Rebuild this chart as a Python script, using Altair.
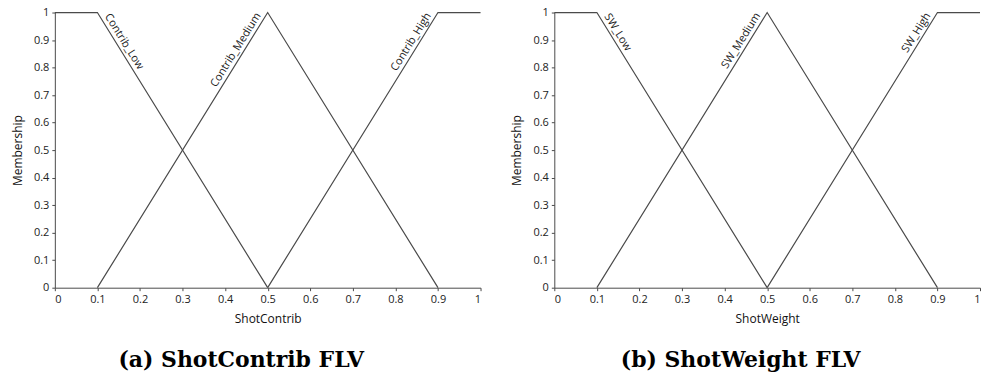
import altair as alt
import pandas as pd

# membership function breakpoints
low_x = [0.0, 0.1, 0.5]
low_y = [1.0, 1.0, 0.0]
med_x = [0.1, 0.5, 0.9]
med_y = [0.0, 1.0, 0.0]
high_x = [0.5, 0.9, 1.0]
high_y = [0.0, 1.0, 1.0]

panels = [
    {"var": "ShotContrib", "caption": "(a) ShotContrib FLV",
     "names": ["Contrib_Low", "Contrib_Medium", "Contrib_High"]},
    {"var": "ShotWeight", "caption": "(b) ShotWeight FLV",
     "names": ["SW_Low", "SW_Medium", "SW_High"]},
]

# label anchor points (top corner of each set)
label_x = [0.1, 0.5, 0.9]
label_y = [1.0, 1.0, 1.0]

ticks = [round(i * 0.1, 1) for i in range(11)]

W, H = 427, 276
LINE = "#4a4a4a"
FONT = "Open Sans"


def panel(p):
    rows = []
    for name, xs, ys in zip(p["names"], [low_x, med_x, high_x], [low_y, med_y, high_y]):
        for i, (x, y) in enumerate(zip(xs, ys)):
            rows.append({"set": name, "x": x, "y": y, "order": i})
    df = pd.DataFrame(rows)
    lab = pd.DataFrame({"x": label_x, "y": label_y, "text": p["names"]})

    xs = alt.Scale(domain=[0, 1], nice=False)
    ys = alt.Scale(domain=[0, 1], nice=False)

    lines = alt.Chart(df).mark_line(color=LINE, strokeWidth=1.2).encode(
        x=alt.X("x:Q", scale=xs, title=p["var"],
                axis=alt.Axis(values=ticks, format=".1~f", grid=False,
                              labelOverlap=False, tickCount=11)),
        y=alt.Y("y:Q", scale=ys, title="Membership",
                axis=alt.Axis(values=ticks, format=".1~f", grid=False,
                              labelOverlap=False, tickCount=11)),
        detail="set:N",
        order="order:Q",
    )
    down = alt.Chart(lab.iloc[[0]]).mark_text(
        angle=58, align="left", baseline="alphabetic", dx=7, dy=-4,
        font=FONT, fontSize=11, color="#222"
    ).encode(x=alt.X("x:Q", scale=xs), y=alt.Y("y:Q", scale=ys), text="text:N")
    up = alt.Chart(lab.iloc[[1, 2]]).mark_text(
        angle=302, align="right", baseline="alphabetic", dx=-6, dy=-4,
        font=FONT, fontSize=11, color="#222"
    ).encode(x=alt.X("x:Q", scale=xs), y=alt.Y("y:Q", scale=ys), text="text:N")

    return alt.layer(lines, down, up).properties(
        width=W, height=H,
        title=alt.TitleParams(p["caption"], orient="bottom", anchor="middle",
                              frame="bounds", font="DejaVu Serif", fontSize=22,
                              fontWeight="bold", color="#000", offset=26, dx=-6),
    )


chart = alt.hconcat(panel(panels[0]), panel(panels[1]), spacing=27).properties(
    padding={"left": 11, "top": 6, "right": 0, "bottom": 0}
).configure_view(stroke=None).configure_axis(
    domainColor=LINE, tickColor=LINE, tickSize=3, labelFont=FONT, labelFontSize=11,
    labelColor="#222", titleFont=FONT, titleFontSize=12, titleFontWeight="normal",
    titleColor="#111", labelPadding=3, titlePadding=9,
)

chart.save("out.html", embed_options={"renderer": "svg", "actions": False})
